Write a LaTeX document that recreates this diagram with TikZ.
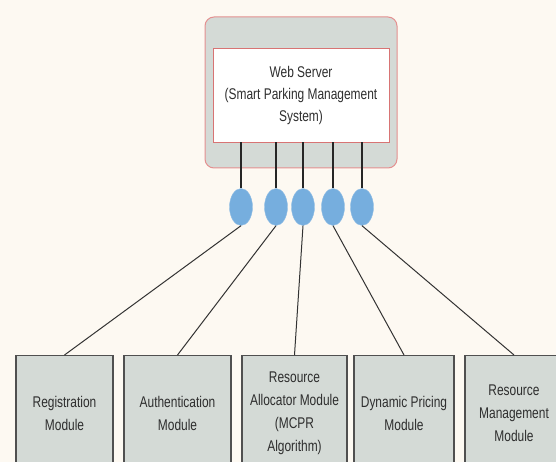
\documentclass[tikz,border=0pt]{standalone}
\usepackage{fontspec}
\setmainfont{Liberation Sans}[FakeStretch=0.77]
\usetikzlibrary{shapes.geometric}
\definecolor{bg}{HTML}{FDF9F2}
\definecolor{boxgrey}{HTML}{D4DAD6}
\definecolor{pinkedge}{HTML}{E49090}
\definecolor{rededge}{HTML}{D87474}
\definecolor{portblue}{HTML}{76AEDE}
\definecolor{txt}{HTML}{2E2E2E}
\definecolor{edge}{HTML}{505050}
\tikzset{
  modbox/.style={draw=edge, line width=1.2pt, fill=boxgrey, minimum height=115pt, anchor=north,
    align=center, text=txt, font=\fontsize{15.5}{23}\selectfont, inner sep=0pt},
  port/.style={ellipse, fill=portblue, draw=portblue!80!white, minimum width=23pt, minimum height=37pt, inner sep=0pt},
  stub/.style={line width=1.6pt, draw=black!85},
  link/.style={line width=1pt, draw=black!80}
}
\begin{document}
\begin{tikzpicture}[x=1pt,y=-1pt]
\fill[bg] (0,0) rectangle (556,462);
\useasboundingbox (0,0) rectangle (556,462);
\clip (0,0) rectangle (556,462);
\node[draw=pinkedge, line width=1pt, fill=boxgrey, rounded corners=9pt, minimum width=192pt, minimum height=151pt, inner sep=0pt] (outer) at (301,92.5) {};
\node[draw=rededge, line width=0.8pt, fill=white, minimum width=176pt, minimum height=94pt, inner sep=0pt, align=center, text=txt, font=\fontsize{15.5}{22}\selectfont] (server) at (301,95) {Web Server\\(Smart Parking Management\\System)};
\node[port] (e1) at (241,207) {};
\node[port] (e2) at (276,207) {};
\node[port] (e3) at (303,207) {};
\node[port] (e4) at (333,207) {};
\node[port] (e5) at (362,207) {};
\foreach \i in {1,...,5}{\draw[stub] (e\i |- server.south) -- (e\i.north);}
\node[modbox, minimum width=97pt] (m1) at (64.5,355) {Registration\\Module};
\node[modbox, minimum width=107pt] (m2) at (177.5,355) {Authentication\\Module};
\node[modbox, minimum width=105pt] (m3) at (294.5,355) {Resource\\Allocator Module\\(MCPR\\Algorithm)};
\node[modbox, minimum width=100pt] (m4) at (404,355) {Dynamic Pricing\\Module};
\node[modbox, minimum width=98pt] (m5) at (514,355) {Resource\\Management\\Module};
\foreach \i in {1,...,5}{\draw[link] (e\i.south) -- (m\i.north);}
\end{tikzpicture}
\end{document}
